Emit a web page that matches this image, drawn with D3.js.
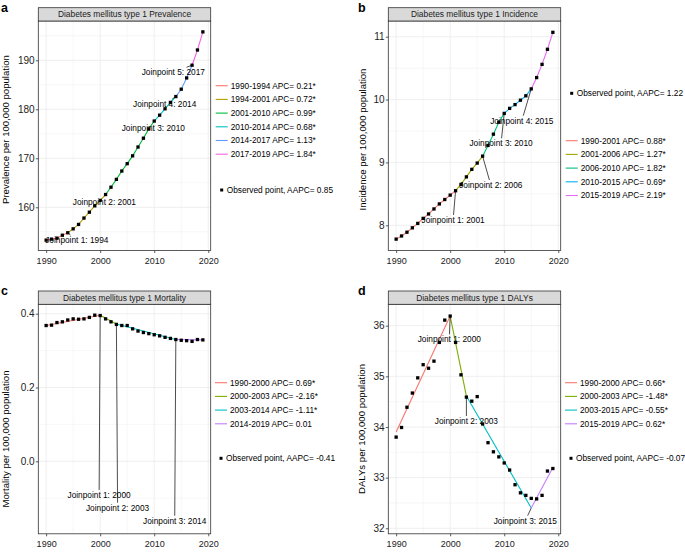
<!DOCTYPE html>
<html>
<head>
<meta charset="utf-8">
<script src="https://cdn.jsdelivr.net/npm/d3@7"></script>
<style>
  body { margin: 0; background: #fff; }
  svg { font-family: "Liberation Sans", Arial, Helvetica, sans-serif; }
</style>
</head>
<body>
<script>
// ---- data ----
const years = [1990, 1991, 1992, 1993, 1994, 1995, 1996, 1997, 1998, 1999,
               2000, 2001, 2002, 2003, 2004, 2005, 2006, 2007, 2008, 2009,
               2010, 2011, 2012, 2013, 2014, 2015, 2016, 2017, 2018, 2019];

const prevalence = [153.3, 153.5, 153.7, 154.3, 154.8, 155.6, 156.5, 157.8, 159.0, 160.3,
                    161.4, 162.6, 164.1, 165.7, 167.4, 168.9, 170.5, 172.3, 174.1, 176.0,
                    177.6, 178.8, 180.1, 181.4, 182.6, 184.1, 186.4, 189.0, 192.1, 195.8];
const incidence = [7.78, 7.83, 7.89, 7.96, 8.03, 8.11, 8.18, 8.26, 8.34, 8.41,
                   8.48, 8.55, 8.65, 8.77, 8.89, 8.99, 9.10, 9.27, 9.45, 9.64,
                   9.78, 9.86, 9.92, 9.99, 10.06, 10.17, 10.35, 10.56, 10.80, 11.07];
const mortality = [0.368, 0.369, 0.376, 0.378, 0.383, 0.386, 0.385, 0.386, 0.390, 0.396,
                   0.395, 0.386, 0.378, 0.371, 0.368, 0.368, 0.359, 0.353, 0.349, 0.346,
                   0.343, 0.340, 0.336, 0.333, 0.330, 0.328, 0.327, 0.325, 0.330, 0.329];
const dalys = [33.80, 33.99, 34.39, 34.67, 34.97, 35.23, 35.16, 35.30, 35.67, 36.11,
               36.19, 35.67, 35.03, 34.59, 34.51, 34.60, 34.06, 33.69, 33.51, 33.41,
               33.29, 33.15, 32.86, 32.70, 32.65, 32.59, 32.58, 32.65, 33.13, 33.18];

// joinpoint segments
const prevBreaks = [1990, 1994, 2001, 2010, 2014, 2017, 2019];
const incBreaks = [1990, 2001, 2006, 2010, 2015, 2019];
const mortBreaks = [1990, 2000, 2003, 2014, 2019];
const mortFit = [0.368, 0.396, 0.372, 0.330, 0.329];
const dalyBreaks = [1990, 2000, 2003, 2015, 2019];
const dalyFit = [33.90, 36.19, 34.61, 32.40, 33.20];

const prevApc = ["0.21*", "0.72*", "0.99*", "0.68*", "1.13*", "1.84*"];
const incApc = ["0.88*", "1.27*", "1.82*", "0.69*", "2.19*"];
const mortApc = ["0.69*", "-2.16*", "-1.11*", "0.01"];
const dalyApc = ["0.66*", "-1.48*", "-0.55*", "0.62*"];
const aapc = ["0.85", "1.22", "-0.41", "-0.07"];

const measures = ["Prevalence", "Incidence", "Mortality", "DALYs"];
const panelTags = ["a", "b", "c", "d"];
const xTicks = [1990, 2000, 2010, 2020];
const xMinor = [1995, 2005, 2015];
const prevTicks = [160, 170, 180, 190];
const incTicks = [8, 9, 10, 11];
const mortTicks = [0.0, 0.2, 0.4];
const dalyTicks = [32, 33, 34, 35, 36];

// ggplot hue palettes
const pal6 = ["#F8766D", "#B79F00", "#00BA38", "#00BFC4", "#619CFF", "#F564E3"];
const pal5 = ["#F8766D", "#A3A500", "#00BF7D", "#00B0F6", "#E76BF3"];
const pal4 = ["#F8766D", "#7CAE00", "#00BFC4", "#C77CFF"];

// ---- layout ----
const W = 685, H = 552;
const pw = 172.4, ph = 229.5, stripH = 13.3;
const xDomain = [1988.55, 2020.45];

const panels = [
  {obs: prevalence, fitYears: years, fitVals: prevalence, breaks: prevBreaks, apc: prevApc, pal: pal6,
   ticks: prevTicks, minor: [155, 165, 175, 185, 195], fmt: d3.format("d"), yDomain: [151.18, 198.02],
   left: 38.3, top: 21, titleX: 6, titleY: 129.6, tagX: 1, tagY: 11.5,
   labX: [1995.67, 2000.78, 2009.83, 2011.94, 2013.53], labY: [153.33, 161.14, 176.12, 181.08, 187.55],
   legX: 215.7, legLines: 85.7, legObs: 190},
  {obs: incidence, fitYears: years, fitVals: incidence, breaks: incBreaks, apc: incApc, pal: pal5,
   ticks: incTicks, minor: [8.5, 9.5, 10.5], fmt: d3.format("d"), yDomain: [7.599, 11.25],
   left: 388.3, top: 21, titleX: 362.5, titleY: 139.5, tagX: 358, tagY: 11.5,
   labX: [2000.54, 2007.52, 2009.41, 2013.25], labY: [8.085, 8.641, 9.304, 9.664],
   legX: 565.7, legLines: 140.7, legObs: 93.3},
  {obs: mortality, fitYears: mortBreaks, fitVals: mortFit, breaks: mortBreaks, apc: mortApc, pal: pal4,
   ticks: mortTicks, minor: [-0.1, 0.1, 0.3], fmt: d3.format(".1f"), yDomain: [-0.1965, 0.4255],
   left: 38.3, top: 304.3, titleX: 6, titleY: 439, tagX: 1, tagY: 295,
   labX: [1999.8, 2003.22, 2013.79], labY: [-0.0913, -0.1257, -0.161],
   legX: 215, legLines: 382.7, legObs: 458.3},
  {obs: dalys, fitYears: dalyBreaks, fitVals: dalyFit, breaks: dalyBreaks, apc: dalyApc, pal: pal4,
   ticks: dalyTicks, minor: [32.5, 33.5, 34.5, 35.5], fmt: d3.format("d"), yDomain: [31.891, 36.4225],
   left: 388.3, top: 304.3, titleX: 361.5, titleY: 429, tagX: 358, tagY: 295,
   labX: [1999.83, 2003.0, 2013.9], labY: [35.731, 34.118, 32.15],
   legX: 565, legLines: 382.7, legObs: 458.3}
];

const svg = d3.select("body").append("svg")
  .attr("width", W)
  .attr("height", H);

panels.forEach((p, k) => {
  const x = d3.scaleLinear().domain(xDomain).range([0, pw]);
  const y = d3.scaleLinear().domain(p.yDomain).range([ph, 0]);
  const g = svg.append("g").attr("transform", "translate(" + p.left + "," + p.top + ")");

  // grid
  const grid = g.append("g").attr("stroke", "#EBEBEB");
  grid.selectAll(".vx").data(xMinor).join("line")
    .attr("x1", d => x(d)).attr("x2", d => x(d)).attr("y1", 0).attr("y2", ph)
    .attr("stroke-width", 0.4);
  grid.selectAll(".hy").data(p.minor).join("line")
    .attr("y1", d => y(d)).attr("y2", d => y(d)).attr("x1", 0).attr("x2", pw)
    .attr("stroke-width", 0.4);
  grid.selectAll(".vX").data(xTicks).join("line")
    .attr("x1", d => x(d)).attr("x2", d => x(d)).attr("y1", 0).attr("y2", ph)
    .attr("stroke-width", 0.8);
  grid.selectAll(".hY").data(p.ticks).join("line")
    .attr("y1", d => y(d)).attr("y2", d => y(d)).attr("x1", 0).attr("x2", pw)
    .attr("stroke-width", 0.8);

  // fitted joinpoint segments
  const line = d3.line().x(d => x(d[0])).y(d => y(d[1]));
  const fit = p.fitYears.map((yr, i) => [yr, p.fitVals[i]]);
  const segs = d3.range(p.breaks.length - 1).map(i =>
    fit.filter(d => d[0] >= p.breaks[i] && d[0] <= p.breaks[i + 1]));
  g.selectAll(".seg").data(segs).join("path")
    .attr("d", line)
    .attr("fill", "none")
    .attr("stroke", (d, i) => p.pal[i])
    .attr("stroke-width", 1.1);

  // observed points
  g.selectAll(".pt").data(years).join("rect")
    .attr("x", (d, i) => x(d) - 1.65)
    .attr("y", (d, i) => y(p.obs[i]) - 1.65)
    .attr("width", 3.3).attr("height", 3.3)
    .attr("fill", "#000");

  // joinpoint labels with repel-style segments
  const joins = p.breaks.slice(1, -1);
  joins.forEach((jy, i) => {
    const fv = p.fitVals[p.fitYears.indexOf(jy)];
    const px = x(jy), py = y(fv);
    const cx = x(p.labX[i]), cy = y(p.labY[i]);
    const t = g.append("text")
      .attr("x", cx).attr("y", cy).attr("dy", "0.35em")
      .attr("text-anchor", "middle")
      .attr("font-size", 8.3)
      .attr("fill", "#000")
      .text("Joinpoint " + (i + 1) + ": " + jy);
    const hw = t.node().getComputedTextLength() / 2 + 1, hh = 5;
    const dx = px - cx, dy = py - cy;
    const s = Math.min(dx ? hw / Math.abs(dx) : Infinity, dy ? hh / Math.abs(dy) : Infinity);
    if (s < 1 && Math.hypot(dx, dy) * (1 - s) > 3) {
      g.insert("line", "text")
        .attr("x1", px).attr("y1", py)
        .attr("x2", cx + dx * s).attr("y2", cy + dy * s)
        .attr("stroke", "#000").attr("stroke-width", 0.7);
    }
  });

  // panel border
  g.append("rect").attr("width", pw).attr("height", ph)
    .attr("fill", "none").attr("stroke", "#333").attr("stroke-width", 0.8);

  // strip
  g.append("rect").attr("y", -stripH).attr("width", pw).attr("height", stripH)
    .attr("fill", "#D9D9D9").attr("stroke", "#333").attr("stroke-width", 0.8);
  g.append("text")
    .attr("x", pw / 2).attr("y", -stripH / 2).attr("dy", "0.35em")
    .attr("text-anchor", "middle").attr("font-size", 8.4).attr("fill", "#1A1A1A")
    .text("Diabetes mellitus type 1 " + measures[k]);

  // axes
  const xAxis = g.append("g").attr("transform", "translate(0," + ph + ")")
    .call(d3.axisBottom(x).tickValues(xTicks).tickFormat(d3.format("d")).tickSize(2.5).tickPadding(4.4));
  const yAxis = g.append("g")
    .call(d3.axisLeft(y).tickValues(p.ticks).tickFormat(p.fmt).tickSize(2.5).tickPadding(1.2));
  [xAxis, yAxis].forEach(a => {
    a.select(".domain").remove();
    a.selectAll("line").attr("stroke", "#333").attr("stroke-width", 0.8);
    a.selectAll("text").attr("fill", "#222").attr("font-family", null);
  });
  xAxis.selectAll("text").attr("font-size", 9);
  yAxis.selectAll("text").attr("font-size", 10);

  // y title
  svg.append("text")
    .attr("transform", "translate(" + p.titleX + "," + p.titleY + ") rotate(-90)")
    .attr("dy", "0.35em")
    .attr("text-anchor", "middle").attr("font-size", 9.6).attr("fill", "#000")
    .text(measures[k] + " per 100,000 population");

  // panel tag
  svg.append("text").attr("x", p.tagX).attr("y", p.tagY)
    .attr("font-size", 12.5).attr("font-weight", "bold").text(panelTags[k]);

  // legend
  const leg = svg.append("g");
  const items = d3.range(p.breaks.length - 1);
  leg.selectAll(".lk").data(items).join("line")
    .attr("x1", p.legX).attr("x2", p.legX + 12)
    .attr("y1", i => p.legLines + i * 13.7).attr("y2", i => p.legLines + i * 13.7)
    .attr("stroke", i => p.pal[i]).attr("stroke-width", 1.1);
  leg.selectAll(".lt").data(items).join("text")
    .attr("x", p.legX + 15).attr("y", i => p.legLines + i * 13.7).attr("dy", "0.35em")
    .attr("font-size", 8.3).attr("fill", "#000")
    .text(i => p.breaks[i] + "-" + p.breaks[i + 1] + " APC= " + p.apc[i]);
  leg.append("rect")
    .attr("x", p.legX + 6 - 1.5).attr("y", p.legObs - 1.5)
    .attr("width", 3).attr("height", 3).attr("fill", "#000");
  leg.append("text")
    .attr("x", p.legX + 11).attr("y", p.legObs).attr("dy", "0.35em")
    .attr("font-size", 8.3).attr("fill", "#000")
    .text("Observed point, AAPC= " + aapc[k]);
});
</script>
</body>
</html>
